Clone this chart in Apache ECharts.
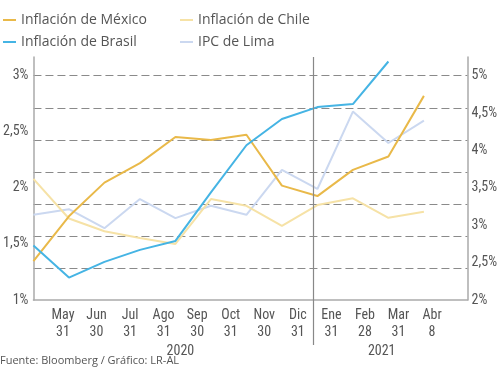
<!DOCTYPE html>
<html><head><meta charset="utf-8">
<script src="https://cdn.jsdelivr.net/npm/echarts@6/dist/echarts.min.js"></script>
<style>html,body{margin:0;padding:0;background:#fff}#c{width:500px;height:367px}</style>
</head><body><div id="c"></div>
<script>
// x tick labels (12) and year groups
const tickLabels = ['May\n31','Jun\n30','Jul\n31','Ago\n31','Sep\n30','Oct\n31','Nov\n30','Dic\n31','Ene\n31','Feb\n28','Mar\n31','Abr\n8'];
const years = ['2020', '2021'];
const yearStart = [0, 8];
const yearEnd = [7, 11];
// series values (%), one per data point
const mexico = [2.52, 3.12, 3.57, 3.83, 4.18, 4.14, 4.21, 3.53, 3.39, 3.74, 3.92, 4.73];
const chile  = [3.62, 3.09, 2.92, 2.83, 2.75, 3.35, 3.26, 2.99, 3.27, 3.36, 3.10, 3.18];
const brasil = [2.73, 2.30, 2.51, 2.67, 2.79, 3.44, 4.07, 4.42, 4.58, 4.62, 5.19, null];
const lima   = [1.76, 1.81, 1.64, 1.90, 1.73, 1.84, 1.76, 2.16, 1.99, 2.68, 2.40, 2.60];
const leftTicks = [1, 1.5, 2, 2.5, 3];
const rightTicks = [2, 2.5, 3, 3.5, 4, 4.5, 5];
const source = 'Fuente: Bloomberg / Gráfico: LR-AL';

const narrow = '"Liberation Sans Narrow", "Roboto Condensed", "Liberation Sans", sans-serif';
const fmt = ticks => v => ticks.some(t => Math.abs(t - v) < 1e-6) ? String(v).replace('.', ',') + '%' : '';
const pts = arr => arr.map((v, i) => [i, v]);

const chart = echarts.init(document.getElementById('c'), null, {renderer: 'canvas'});
const legendText = {color: '#555', fontSize: 14, fontFamily: '"Open Sans", sans-serif', lineHeight: 16};
const option = {
  animation: false,
  backgroundColor: '#fff',
  legend: [
    {data: ['Inflación de México', 'Inflación de Brasil'], orient: 'vertical', left: -2, top: 7,
     icon: 'rect', itemWidth: 13, itemHeight: 2, itemGap: 6, textStyle: legendText},
    {data: ['Inflación de Chile', 'IPC de Lima'], orient: 'vertical', left: 175, top: 7,
     icon: 'rect', itemWidth: 13, itemHeight: 2, itemGap: 6, textStyle: legendText}
  ],
  grid: [
    {left: 30, right: 29, top: 57, bottom: 67},
    {left: 46.2, right: 51.2, top: 57, bottom: 67}
  ],
  xAxis: [
    {type: 'value', gridIndex: 0, min: 0, max: 12.23,
     axisLine: {show: true, lineStyle: {color: '#aaa', width: 1.5}}, axisTick: {show: false},
     axisLabel: {show: false}, splitLine: {show: false}},
    {type: 'category', gridIndex: 1, data: tickLabels, boundaryGap: true,
     axisLine: {show: false}, axisTick: {show: false}, splitLine: {show: false},
     axisLabel: {interval: 0, margin: 6.5, color: '#555', fontSize: 14, lineHeight: 17, fontFamily: narrow}}
  ],
  yAxis: [
    {type: 'value', gridIndex: 0, position: 'left', min: 1, max: 3.1667, interval: 0.5,
     axisLine: {show: true, lineStyle: {color: '#aaa', width: 1.5}}, axisTick: {show: false},
     splitLine: {show: false},
     axisLabel: {formatter: fmt(leftTicks), showMaxLabel: false, margin: 5, color: '#555', fontSize: 14, fontFamily: narrow}},
    {type: 'value', gridIndex: 0, position: 'right', min: 2, max: 5.25, interval: 0.5,
     axisLine: {show: true, lineStyle: {color: '#aaa', width: 1.5}}, axisTick: {show: false},
     splitLine: {show: false},
     axisLabel: {formatter: fmt(rightTicks), showMaxLabel: false, margin: 4, color: '#555', fontSize: 14, fontFamily: narrow}},
    {type: 'value', gridIndex: 0, position: 'left', min: 0, max: 7.584, interval: 1,
     axisLine: {show: false}, axisTick: {show: false}, axisLabel: {show: false},
     splitLine: {show: true, showMinLine: false, showMaxLine: false,
       lineStyle: {color: '#8a8a8a', type: [8, 4], width: 1.2}}},
    {type: 'value', gridIndex: 1, show: false}
  ],
  series: [
    {name: 'IPC de Lima', type: 'line', xAxisIndex: 0, yAxisIndex: 0, data: pts(lima),
     showSymbol: false, symbol: 'none', lineStyle: {width: 2, color: '#cbd8f0'}, itemStyle: {color: '#cbd8f0'}},
    {name: 'Inflación de Chile', type: 'line', xAxisIndex: 0, yAxisIndex: 1, data: pts(chile),
     showSymbol: false, symbol: 'none', lineStyle: {width: 2, color: '#f6e2a6'}, itemStyle: {color: '#f6e2a6'}},
    {name: 'Inflación de México', type: 'line', xAxisIndex: 0, yAxisIndex: 1, data: pts(mexico),
     showSymbol: false, symbol: 'none', lineStyle: {width: 2, color: '#e9b949'}, itemStyle: {color: '#e9b949'}},
    {name: 'Inflación de Brasil', type: 'line', xAxisIndex: 0, yAxisIndex: 1, data: pts(brasil),
     showSymbol: false, symbol: 'none', lineStyle: {width: 2, color: '#45b4e4'}, itemStyle: {color: '#45b4e4'}}
  ]
};
chart.setOption(option);

// decorations positioned via the label axis
const lx = i => chart.convertToPixel({xAxisIndex: 1}, tickLabels[i]);
const divX = Math.round((lx(7) + lx(8)) / 2) - 1.5;
const graphics = [
  {type: 'line', shape: {x1: divX, y1: 57, x2: divX, y2: 345}, style: {stroke: '#888', lineWidth: 1.2}, z: 10}
];
years.forEach((y, k) => {
  graphics.push({type: 'text', x: (lx(yearStart[k]) + lx(yearEnd[k])) / 2, y: 351,
    style: {text: y, fill: '#555', font: '14px ' + narrow, align: 'center', verticalAlign: 'middle'}});
});
graphics.push({type: 'text', x: 0, y: 361, style: {text: source, fill: '#555', font: '11px "Open Sans", sans-serif', align: 'left', verticalAlign: 'middle'}});
chart.setOption({graphic: graphics});
</script></body></html>
